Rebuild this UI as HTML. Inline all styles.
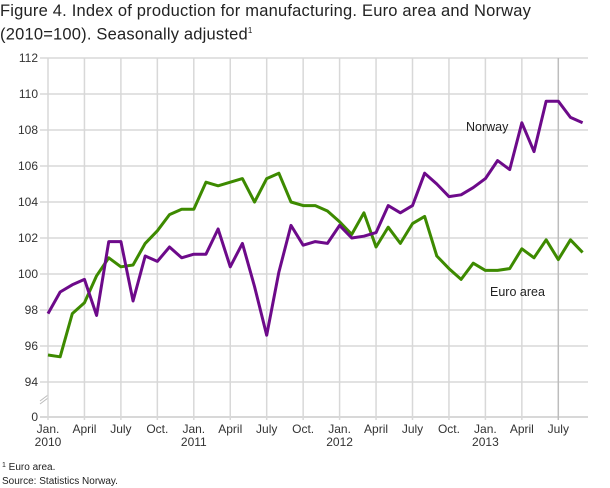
<!DOCTYPE html>
<html><head><meta charset="utf-8"><style>
body{margin:0;background:#fff;font-family:"Liberation Sans",sans-serif;}
#t{position:absolute;left:0;top:1px;font-size:16.5px;line-height:20px;color:#222;width:610px;letter-spacing:0.2px;}
</style></head><body>
<div id="t">Figure 4. Index of production for manufacturing. Euro area and Norway<br>(2010=100). Seasonally adjusted<sup style="font-size:8px">1</sup></div>
<svg id="c" width="610" height="488" style="position:absolute;left:0;top:0">
<text x="2" y="470" font-size="10" fill="#222"><tspan font-size="7" dy="-3">1</tspan><tspan dy="3"> Euro area.</tspan></text>
<text x="2" y="484" font-size="10" fill="#222">Source: Statistics Norway.</text>
</svg>
<script>
const months=["Jan.","","","April","","","July","","","Oct.","",""];
const years=["2010","2011","2012","2013"];
const yTicks=[94,96,98,100,102,104,106,108,110,112];
const euro=[95.5,95.4,97.8,98.4,99.9,100.9,100.4,100.5,101.7,102.4,103.3,103.6,
103.6,105.1,104.9,105.1,105.3,104.0,105.3,105.6,104.0,103.8,103.8,103.5,
102.9,102.2,103.4,101.5,102.6,101.7,102.8,103.2,101.0,100.3,99.7,100.6,
100.2,100.2,100.3,101.4,100.9,101.9,100.8,101.9,101.2];
const norway=[97.8,99.0,99.4,99.7,97.7,101.8,101.8,98.5,101.0,100.7,101.5,100.9,
101.1,101.1,102.5,100.4,101.7,99.3,96.6,100.1,102.7,101.6,101.8,101.7,
102.7,102.0,102.1,102.3,103.8,103.4,103.8,105.6,105.0,104.3,104.4,104.8,
105.3,106.3,105.8,108.4,106.8,109.6,109.6,108.7,108.4];
const svg=document.getElementById('c');const NS='http://www.w3.org/2000/svg';
const X=i=>48+i*12.15, Y=v=>58+(112-v)*18;
function mk(tag,at,txt){const e=document.createElementNS(NS,tag);for(const k in at)e.setAttribute(k,at[k]);if(txt!=null)e.textContent=txt;svg.appendChild(e);return e;}
const n=euro.length;
yTicks.forEach(v=>{
const g=mk('line',{x1:40,x2:588,y1:Y(v),y2:Y(v),stroke:'#d8d8d8','stroke-width':1.5});


const t=mk('text',{x:38,y:Y(v)+4,'text-anchor':'end','font-size':12,fill:'#333'},v);


});
const z=mk('text',{x:38,y:421,'text-anchor':'end','font-size':12,fill:'#333'},'0');


const ax=mk('line',{x1:40,x2:588,y1:417,y2:417,stroke:'#ccc','stroke-width':1.5});


const br=mk('path',{d:'M40,401 l8,-6 M40,404 l8,-6',stroke:'#bbb',fill:'none'});


for(let i=0;i<n;i++){const m=months[i%12];if(!m)continue;
const g=mk('line',{x1:X(i),x2:X(i),y1:58,y2:420,stroke:(i==n-3)?'#bdbdbd':'#d8d8d8','stroke-width':1.5});


const t=mk('text',{x:X(i),y:433,'text-anchor':'middle','font-size':12,fill:'#333'},m);


if(i%12==0){const y=mk('text',{x:X(i),y:446,'text-anchor':'middle','font-size':12,fill:'#333'},years[i/12]);

}}
function line(d,col,name){const p=mk('polyline',{points:d.map((v,i)=>X(i)+','+Y(v)).join(' '),fill:'none',stroke:col,'stroke-width':3,'stroke-linejoin':'round'});

}
line(euro,'#3d8a00','euro-area-line');
line(norway,'#6d0a8a','norway-line');
const l1=mk('text',{x:466,y:131,'font-size':12.5,fill:'#222'},'Norway');


const l2=mk('text',{x:490,y:296,'font-size':12.5,fill:'#222'},'Euro area');


</script>
</body></html>
